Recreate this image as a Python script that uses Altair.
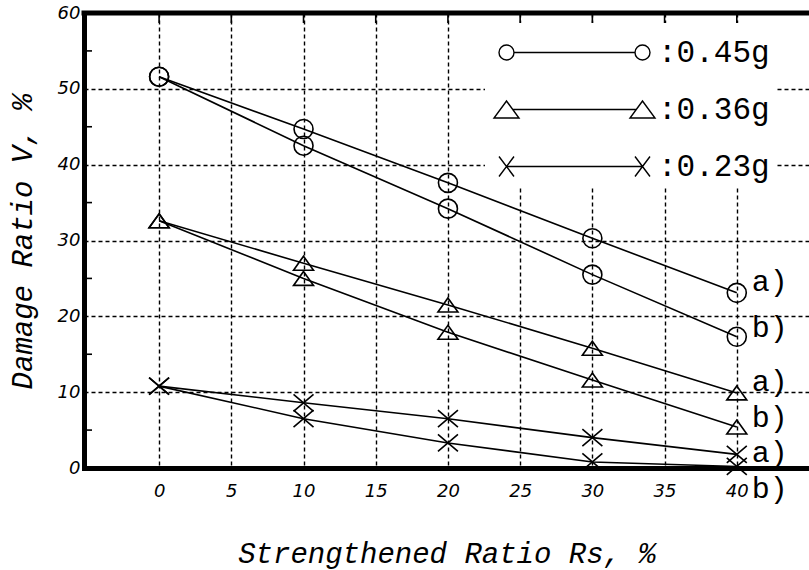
import altair as alt
import pandas as pd

# ---- data ----
x_vals = [0, 10, 20, 30, 40]
series_names = ["0.45g", "0.36g", "0.23g"]
v045_a = [51.6, 44.7, 37.6, 30.3, 23.1]
v045_b = [51.6, 42.5, 34.2, 25.5, 17.3]
v036_a = [32.6, 27.0, 21.5, 15.8, 9.9]
v036_b = [32.6, 25.0, 17.9, 11.6, 5.4]
v023_a = [10.8, 8.6, 6.5, 4.0, 1.8]
v023_b = [10.8, 6.5, 3.3, 0.8, 0.2]

case_series = ["0.45g", "0.45g", "0.36g", "0.36g", "0.23g", "0.23g"]
case_text = ["a)", "b)", "a)", "b)", "a)", "b)"]
case_label_at = [24.5, 18.5, 11.4, 6.6, 2.0, -2.8]

x_ticks = [0, 5, 10, 15, 20, 25, 30, 35, 40]
y_ticks = [0, 10, 20, 30, 40, 50, 60]
y_minor = [5, 15, 25, 35, 45, 55]

rows = []
for s, ca, vals in [
    ("0.45g", "a", v045_a), ("0.45g", "b", v045_b),
    ("0.36g", "a", v036_a), ("0.36g", "b", v036_b),
    ("0.23g", "a", v023_a), ("0.23g", "b", v023_b),
]:
    for xv, yv in zip(x_vals, vals):
        rows.append({"series": s, "case": ca, "key": s + ca, "x": xv, "y": yv})
df = pd.DataFrame(rows)

lab_df = pd.DataFrame({"series": case_series, "text": case_text,
                       "x": [x_vals[-1]] * len(case_text), "y": case_label_at})
xt_df = pd.DataFrame({"x": x_ticks})
ym_df = pd.DataFrame({"y": y_minor})
top_df = pd.DataFrame({"y": [y_ticks[-1]]})

# ---- scales & axes ----
x_scale = alt.Scale(domain=[-5.2, 45], nice=False, zero=False)
y_scale = alt.Scale(domain=[0, 60], nice=False, zero=False)

x_axis = alt.Axis(
    values=x_ticks, grid=True, gridDash=[4, 3], gridColor="black", gridWidth=1.4,
    gridOpacity=1, ticks=False, tickSize=0, labelFont="DejaVu Sans",
    labelFontStyle="italic", labelFontSize=18, labelColor="black", labelPadding=14,
    labelFlush=False, domainWidth=5, domainColor="black", domainCap="square",
    title="Strengthened Ratio Rs, %", titleFont="Liberation Mono",
    titleFontStyle="italic", titleFontWeight="normal", titleFontSize=29,
    titleColor="black", titleY=85, titleBaseline="middle",
)
y_axis = alt.Axis(
    values=y_ticks, grid=True, gridDash=[4, 3], gridColor="black", gridWidth=1.4,
    gridOpacity=1, ticks=False, tickSize=0, labelFont="DejaVu Sans",
    labelFontStyle="italic", labelFontSize=18, labelColor="black", labelPadding=4,
    labelFlush=False, domainWidth=5, domainColor="black", domainCap="square",
    title="Damage Ratio V, %", titleFont="Liberation Mono",
    titleFontStyle="italic", titleFontWeight="normal", titleFontSize=29,
    titleColor="black", titleX=-62, titleY=228, titleAngle=270,
    titleAlign="center", titleBaseline="middle",
)


def X(f):
    return alt.X(f, type="quantitative", scale=x_scale, axis=x_axis)


def Y(f):
    return alt.Y(f, type="quantitative", scale=y_scale, axis=y_axis)


# marker shapes (unit box, scaled by size)
pt_circle = "M0.95,0A0.95,0.95,0,1,1,-0.95,0A0.95,0.95,0,1,1,0.95,0Z"
pt_tri = "M0,-0.7L1,0.7L-1,0.7Z"
pt_x = "M-1,-0.85L1,0.85M-1,0.85L1,-0.85"

lg_circle = ("M0.75,0A0.75,0.75,0,1,1,-0.75,0A0.75,0.75,0,1,1,0.75,0Z"
             "M0.75,0L12.85,0"
             "M14.35,0A0.75,0.75,0,1,1,12.85,0A0.75,0.75,0,1,1,14.35,0Z")
lg_tri = ("M-1.25,0.85L1.25,0.85L0,-0.85Z"
          "M0.63,0L12.97,0"
          "M12.35,0.85L14.85,0.85L13.6,-0.85Z")
lg_x = ("M-0.75,-1L0.75,1M-0.75,1L0.75,-1"
        "M0,0L13.6,0"
        "M12.85,-1L14.35,1M12.85,1L14.35,-1")

base = alt.Chart(df)

lines = base.mark_line(color="black", strokeWidth=1.6).encode(
    x=X("x"), y=Y("y"), detail="key:N"
)

points = base.mark_point(filled=False, color="black", opacity=1, strokeWidth=1.6, size=400).encode(
    x=X("x"), y=Y("y"),
    shape=alt.Shape("series:N", scale=alt.Scale(domain=series_names,
                                                 range=[pt_circle, pt_tri, pt_x]), legend=None),
)

legend_layer = base.transform_filter("false").mark_point(
    filled=False, color="black", opacity=1, strokeWidth=1.5
).encode(
    x=X("x"), y=Y("y"),
    shape=alt.Shape(
        "series:N",
        scale=alt.Scale(domain=series_names, range=[lg_circle, lg_tri, lg_x]),
        legend=alt.Legend(
            title="\u00a0", titleFontSize=8, titlePadding=0,
            orient="none", legendX=401, legendY=10,
            fillColor="white", padding=6, rowPadding=25,
            symbolSize=400, symbolStrokeWidth=1.4, symbolStrokeColor="black",
            labelFont="Liberation Mono", labelFontSize=31, labelColor="black",
            labelOffset=136, labelLimit=400,
            labelExpr="':' + datum.label + '\u00a0\u00a0\u00a0'",
        ),
    ),
)

labels = alt.Chart(lab_df).mark_text(
    align="left", baseline="middle", dx=15, font="Liberation Mono", fontSize=30, color="black"
).encode(x=X("x"), y=Y("y"), text="text:N")

top_border = alt.Chart(top_df).mark_rule(color="black", strokeWidth=5, strokeCap="square").encode(
    y=Y("y")
)

top_ticks = alt.Chart(xt_df).mark_rule(color="black", strokeWidth=1.6).encode(
    x=X("x"), y=alt.value(0), y2=alt.value(10)
)

left_minor = alt.Chart(ym_df).mark_rule(color="black", strokeWidth=1.6).encode(
    y=Y("y"), x=alt.value(0), x2=alt.value(8)
)

chart = alt.layer(
    top_ticks, left_minor, lines, points, labels, top_border, legend_layer
).resolve_scale(shape="independent").properties(
    width=725, height=455, autosize="none",
    padding={"left": 84, "top": 13, "right": 0, "bottom": 102},
    background="white",
).configure_view(stroke=None)

chart.save("out.html", embed_options={"renderer": "svg", "actions": False})
